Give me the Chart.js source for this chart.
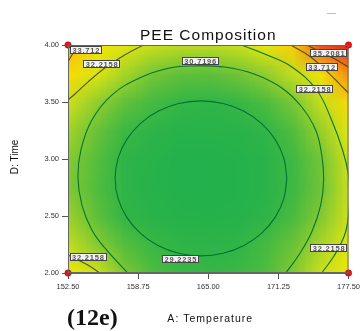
<!DOCTYPE html>
<html>
<head>
<meta charset="utf-8">
<script src="https://cdn.jsdelivr.net/npm/chart.js@4.4.1/dist/chart.umd.min.js"></script>
<style>
  html, body { margin: 0; padding: 0; background: #fff; }
  canvas { display: block; }
</style>
</head>
<body>
<canvas id="contourChart" width="363" height="331"></canvas>
<script>
// Axis ticks
const tempTicks = [152.5, 158.75, 165, 171.25, 177.5];
const timeTicks = [2, 2.5, 3, 3.5, 4];

// Response surface (rows: time 4.00 -> 2.00, cols: temperature 152.5 -> 177.5)
const gridTemps = [152.5, 155, 157.5, 160, 162.5, 165, 167.5, 170, 172.5, 175, 177.5];
const gridTimes = [4.0, 3.75, 3.5, 3.25, 3.0, 2.75, 2.5, 2.25, 2.0];
const gridValues = [
  [34.3, 33.25, 32.56, 32.11, 31.9, 31.9, 32.1, 32.75, 33.85, 36.0, 36.7],
  [33.45, 32.5, 31.6, 30.75, 30.35, 30.3, 30.65, 31.2, 32.0, 33.3, 35.0],
  [32.15, 31.25, 30.4, 29.75, 29.3, 29.15, 29.35, 29.95, 30.85, 32.05, 33.5],
  [31.5, 30.55, 29.5, 28.85, 28.45, 28.35, 28.55, 29.1, 30.05, 31.35, 32.7],
  [31.05, 30.15, 29.0, 28.35, 27.95, 27.85, 28.05, 28.65, 29.6, 30.75, 32.3],
  [30.95, 30.05, 28.95, 28.3, 27.9, 27.8, 28.0, 28.6, 29.55, 30.7, 32.15],
  [31.4, 30.35, 29.25, 28.6, 28.2, 28.1, 28.3, 28.95, 29.9, 31.0, 32.25],
  [32.0, 31.1, 30.15, 29.45, 29.05, 28.95, 29.15, 29.75, 30.6, 31.65, 32.65],
  [33.1, 32.3, 30.9, 30.0, 29.5, 29.35, 29.5, 30.0, 31.0, 32.15, 33.1]
];

// Contour levels and traced lines [temperature, time]
const levels = [29.2235, 30.7196, 32.2158, 33.712, 35.2081];
const contour1 = [[172.0,2.83],[171.74,3.006],[170.97,3.17],[169.76,3.311],[168.18,3.419],[166.33,3.487],[164.35,3.51],[162.37,3.487],[160.52,3.419],[158.94,3.311],[157.73,3.17],[156.96,3.006],[156.7,2.83],[156.96,2.654],[157.73,2.49],[158.94,2.349],[160.52,2.241],[162.37,2.173],[164.35,2.15],[166.33,2.173],[168.18,2.241],[169.76,2.349],[170.97,2.49],[171.74,2.654],[172.0,2.83]];
const contour2 = [[157.82,2.0],[155.78,2.22],[154.63,2.377],[153.74,2.596],[153.39,2.833],[153.65,3.079],[154.63,3.342],[156.4,3.561],[158.88,3.711],[161.54,3.798],[163.76,3.816],[166.42,3.807],[169.08,3.746],[171.56,3.623],[173.33,3.456],[174.57,3.254],[175.11,3.035],[175.28,2.816],[175.02,2.596],[174.22,2.36],[173.07,2.158],[171.91,2.0]];
const contour3a = [[159.24,4.0],[157.55,3.912],[155.78,3.798],[154.27,3.675],[153.12,3.57],[152.5,3.518]];
const contour3b = [[167.93,4.0],[170.23,3.912],[172.45,3.807],[174.66,3.605],[175.99,3.342],[176.97,3.079],[177.5,2.86],[177.59,2.684],[177.5,2.509],[177.15,2.333],[176.26,2.158],[175.11,2.0]];
const contour3c = [[152.5,2.158],[153.39,2.114],[154.27,2.07],[155.34,2.0]];
const contour4a = [[153.56,4.0],[152.9,3.92],[152.5,3.851]];
const contour4b = [[172.36,4.0],[174.13,3.895],[175.73,3.754],[176.79,3.649],[177.5,3.579]];
const contour5 = [[173.78,4.0],[175.02,3.939],[176.44,3.868],[177.5,3.807]];

// Contour labels: level index and anchor
const labelLevel = [3, 2, 1, 4, 3, 2, 2, 0, 2];
const labelTemp = [154.1, 155.51, 164.29, 175.73, 175.11, 174.49, 154.27, 162.52, 175.73];
const labelTime = [3.956, 3.833, 3.86, 3.93, 3.807, 3.614, 2.14, 2.123, 2.219];

// Design points
const designTemp = [152.5, 152.5, 177.5, 177.5];
const designTime = [2.0, 4.0, 2.0, 4.0];

const colorStops = [
  [27.8, [34, 177, 76]], [29.2, [48, 181, 72]], [30.0, [78, 188, 62]],
  [30.7, [112, 196, 55]], [31.5, [160, 210, 42]], [32.2, [205, 224, 28]],
  [33.0, [240, 234, 10]], [33.7, [250, 212, 5]], [34.5, [248, 170, 15]],
  [35.2, [245, 128, 22]], [36.0, [238, 80, 28]], [36.8, [225, 35, 30]]
];

function colorFor(z) {
  if (z <= colorStops[0][0]) return colorStops[0][1];
  for (let i = 1; i < colorStops.length; i++) {
    if (z <= colorStops[i][0]) {
      const [z0, c0] = colorStops[i - 1], [z1, c1] = colorStops[i];
      const t = (z - z0) / (z1 - z0);
      return c0.map((v, k) => Math.round(v + (c1[k] - v) * t));
    }
  }
  return colorStops[colorStops.length - 1][1];
}

const toPts = arr => arr.map(p => ({x: p[0], y: p[1]}));
const lineStyle = {
  showLine: true, tension: 0.4, pointRadius: 0, borderWidth: 1.1,
  borderColor: 'rgba(0,110,50,0.95)', fill: false
};
const darkLine = 'rgba(55,55,25,0.8)';

const surfacePlugin = {
  id: 'surface',
  beforeDatasetsDraw(chart) {
    const {ctx, chartArea, scales: {x, y}} = chart;
    const cols = gridTemps.length, rows = gridTimes.length;
    const off = document.createElement('canvas');
    off.width = cols; off.height = rows;
    const octx = off.getContext('2d');
    const img = octx.createImageData(cols, rows);
    gridValues.forEach((row, r) => row.forEach((z, c) => {
      const col = colorFor(z), i = (r * cols + c) * 4;
      img.data[i] = col[0]; img.data[i + 1] = col[1]; img.data[i + 2] = col[2]; img.data[i + 3] = 255;
    }));
    octx.putImageData(img, 0, 0);
    const dx = x.getPixelForValue(gridTemps[1]) - x.getPixelForValue(gridTemps[0]);
    const dy = y.getPixelForValue(gridTimes[1]) - y.getPixelForValue(gridTimes[0]);
    const left = x.getPixelForValue(gridTemps[0]) - dx / 2;
    const top = y.getPixelForValue(gridTimes[0]) - dy / 2;
    ctx.save();
    ctx.beginPath();
    ctx.rect(chartArea.left, chartArea.top, chartArea.width, chartArea.height);
    ctx.clip();
    ctx.imageSmoothingEnabled = true;
    ctx.imageSmoothingQuality = 'low';
    ctx.drawImage(off, left, top, dx * cols, dy * rows);
    ctx.restore();
  },
  afterDatasetsDraw(chart) {
    const {ctx, chartArea, scales: {x, y}} = chart;
    ctx.save();
    ctx.strokeStyle = '#666';
    ctx.lineWidth = 1;
    ctx.strokeRect(chartArea.left + 0.5, chartArea.top + 0.5, chartArea.width - 1, chartArea.height - 1);

    // contour labels
    ctx.font = 'bold 7.5px "Liberation Sans", Arial, sans-serif';
    ctx.letterSpacing = '0.8px';
    ctx.textAlign = 'center';
    ctx.textBaseline = 'middle';
    labelLevel.forEach((lv, i) => {
      const txt = String(levels[lv]);
      const px = x.getPixelForValue(labelTemp[i]);
      const py = y.getPixelForValue(labelTime[i]);
      const w = ctx.measureText(txt).width + 4;
      ctx.fillStyle = '#f2f2f2';
      ctx.fillRect(Math.round(px - w / 2), Math.round(py - 4), Math.round(w), 8);
      ctx.strokeStyle = '#444';
      ctx.strokeRect(Math.round(px - w / 2) + 0.5, Math.round(py - 4) + 0.5, Math.round(w) - 1, 7);
      ctx.fillStyle = '#555';
      ctx.fillText(txt, px + 0.4, py + 0.5);
    });
    ctx.restore();
  },
  afterDraw(chart) {
    const {ctx, chartArea} = chart;
    const cx = (chartArea.left + chartArea.right) / 2;
    ctx.save();
    ctx.fillStyle = '#111';
    ctx.textAlign = 'center';
    ctx.textBaseline = 'alphabetic';
    ctx.font = '15.5px "Liberation Sans", Arial, sans-serif';
    ctx.letterSpacing = '1px';
    ctx.fillText('PEE Composition', cx, chartArea.top - 5);

    ctx.font = '10.5px "Liberation Sans", Arial, sans-serif';
    ctx.letterSpacing = '1px';
    ctx.fillText('A: Temperature', cx + 2, chartArea.bottom + 49);

    ctx.save();
    ctx.translate(18, (chartArea.top + chartArea.bottom) / 2 - 2);
    ctx.rotate(-Math.PI / 2);
    ctx.font = '10px "Liberation Sans", Arial, sans-serif';
    ctx.letterSpacing = '0px';
    ctx.fillText('D: Time', 0, 0);
    ctx.restore();

    ctx.letterSpacing = '0px';
    ctx.textAlign = 'left';
    ctx.font = 'bold 24px "Liberation Serif", "Times New Roman", serif';
    ctx.fillText('(12e)', chartArea.left - 1, chartArea.bottom + 52);

    ctx.strokeStyle = '#bbb';
    ctx.lineWidth = 1;
    ctx.beginPath();
    ctx.moveTo(327, 13.5);
    ctx.lineTo(336, 13.5);
    ctx.stroke();
    ctx.restore();
  }
};

const ctx = document.querySelector('#contourChart').getContext('2d');
new Chart(ctx, {
  type: 'scatter',
  data: {
    datasets: [
      {data: toPts(contour1), ...lineStyle},
      {data: toPts(contour2), ...lineStyle},
      {data: toPts(contour3a), ...lineStyle, borderColor: darkLine},
      {data: toPts(contour3b), ...lineStyle},
      {data: toPts(contour3c), ...lineStyle, borderColor: darkLine},
      {data: toPts(contour4a), ...lineStyle, borderColor: darkLine},
      {data: toPts(contour4b), ...lineStyle, borderColor: darkLine},
      {data: toPts(contour5), ...lineStyle, borderColor: darkLine},
      {
        data: designTemp.map((t, i) => ({x: t, y: designTime[i]})),
        pointRadius: 3.2, pointBackgroundColor: '#e3161b', pointBorderColor: '#a00',
        pointBorderWidth: 0.5, showLine: false, clip: false
      }
    ]
  },
  options: {
    responsive: false,
    animation: false,
    devicePixelRatio: 1,
    layout: {padding: {top: 45, left: 28, right: 13, bottom: 34}},
    plugins: {legend: {display: false}, tooltip: {enabled: false}, title: {display: false}},
    scales: {
      x: {
        type: 'linear', min: 152.5, max: 177.5,
        afterBuildTicks: s => { s.ticks = tempTicks.map(v => ({value: v})); },
        afterFit: s => { s.height = 24; },
        ticks: {
          callback: v => Number(v).toFixed(2), padding: 3, maxRotation: 0, autoSkip: false,
          color: '#333', font: {family: '"Liberation Sans", Arial, sans-serif', size: 7.5}
        },
        grid: {drawOnChartArea: false, drawTicks: true, tickLength: 6, color: '#555'},
        border: {display: true, color: '#666'}
      },
      y: {
        type: 'linear', min: 2, max: 4,
        afterBuildTicks: s => { s.ticks = timeTicks.map(v => ({value: v})); },
        afterFit: s => { s.width = 40; },
        ticks: {
          callback: v => Number(v).toFixed(2), padding: 3, autoSkip: false,
          color: '#333', font: {family: '"Liberation Sans", Arial, sans-serif', size: 7.5}
        },
        grid: {drawOnChartArea: false, drawTicks: true, tickLength: 6, color: '#555'},
        border: {display: true, color: '#666'}
      }
    }
  },
  plugins: [surfacePlugin]
});
</script>
</body>
</html>
